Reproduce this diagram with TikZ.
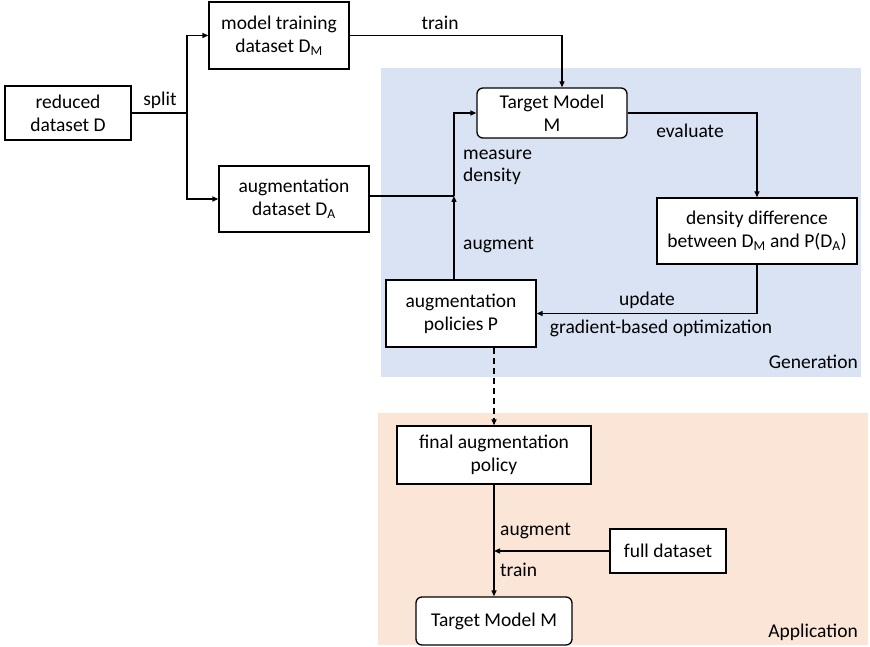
\documentclass[tikz,border=0pt]{standalone}
\usepackage{fontspec}
\setmainfont{Carlito}
\usetikzlibrary{arrows.meta,positioning}
\newcommand{\subt}[1]{\textsubscript{#1}}
\definecolor{genblue}{HTML}{DAE3F3}
\definecolor{apppink}{HTML}{FBE5D6}
\tikzset{
  box/.style={draw=black, line width=1.3pt, fill=white, align=center, inner sep=0pt, font=\fontsize{19.5}{23}\selectfont},
  rbox/.style={box, rounded corners=6pt},
  conn/.style={line width=1.3pt, -{Triangle[length=6pt,width=5pt]}},
  plain/.style={line width=1.3pt},
  lbl/.style={font=\fontsize{19.5}{22}\selectfont, inner sep=0pt, align=left},
}
\begin{document}
\begin{tikzpicture}[x=1pt,y=-1pt]
\useasboundingbox (0,0) rectangle (870,647);
\fill[white] (0,0) rectangle (870,647);
\fill[genblue] (381,68) rectangle (861,377);
\fill[apppink] (378,413) rectangle (868,645);

\node[box, minimum width=126pt, minimum height=54pt] (red) at (68,113) {reduced\\dataset D};
\node[box, minimum width=140pt, minimum height=67pt] (mtd) at (279,35.5) {model training\\dataset D\subt{M}};
\node[box, minimum width=150pt, minimum height=66pt] (aug) at (294,199) {augmentation\\dataset D\subt{A}};
\node[rbox, minimum width=150pt, minimum height=50pt] (tm1) at (552,113) {Target Model\\M};
\node[box, minimum width=200pt, minimum height=66pt] (dd) at (757,231) {density difference\\between D\subt{M} and P(D\subt{A})};
\node[box, minimum width=150pt, minimum height=67pt] (pol) at (461,313.5) {augmentation\\policies P};
\node[box, minimum width=194pt, minimum height=58pt] (fap) at (494,455) {final augmentation\\policy};
\node[box, minimum width=116pt, minimum height=44pt] (full) at (668,551) {full dataset};
\node[rbox, minimum width=156pt, minimum height=48pt] (tm2) at (494,621) {Target Model M};

% split
\coordinate (S) at (187,113);
\draw[plain] (red.east) -- (S);
\draw[conn] (S) |- (mtd.west);
\draw[conn] (S) |- (aug.west);
\node[lbl] (lsplit) at (160,100) {split};

% train
\coordinate (T) at (562,35.5);
\draw[conn] (mtd.east) -- (T) -- (T |- tm1.north);
\node[lbl] (ltrain) at (440,23) {train};

% measure density / augment
\coordinate (J) at (454,196);
\draw[plain] (aug.east |- J) -- (J);
\draw[conn] (J |- pol.north) -- (J);
\draw[conn] (J) |- (tm1.west);
\node[lbl, anchor=west] (lmeas) at (463,167.5) {measure\\density};
\node[lbl, anchor=west] (laug) at (463,245) {augment};

% evaluate
\draw[conn] (tm1.east) -| (dd.north);
\node[lbl] (leval) at (690,131) {evaluate};

% update
\draw[conn] (dd.south) |- (pol.east);
\node[lbl] (lupd) at (647,300) {update};
\node[lbl] (lgrad) at (661,328) {gradient-based optimization};

% dashed
\draw[conn, dashed, dash pattern=on 6pt off 4pt] (fap.north |- pol.south) -- (fap.north);

% application
\coordinate (K) at (494,551);
\draw[conn] (fap.south) -- (tm2.north);
\draw[conn] (full.west) -- (K);
\node[lbl, anchor=west] (laug2) at (500,531) {augment};
\node[lbl, anchor=west] (ltrain2) at (500,570) {train};

\node[lbl, anchor=east] (lgen) at (858,362) {Generation};
\node[lbl, anchor=east] (lapp) at (858,632) {Application};
\end{tikzpicture}
\end{document}
